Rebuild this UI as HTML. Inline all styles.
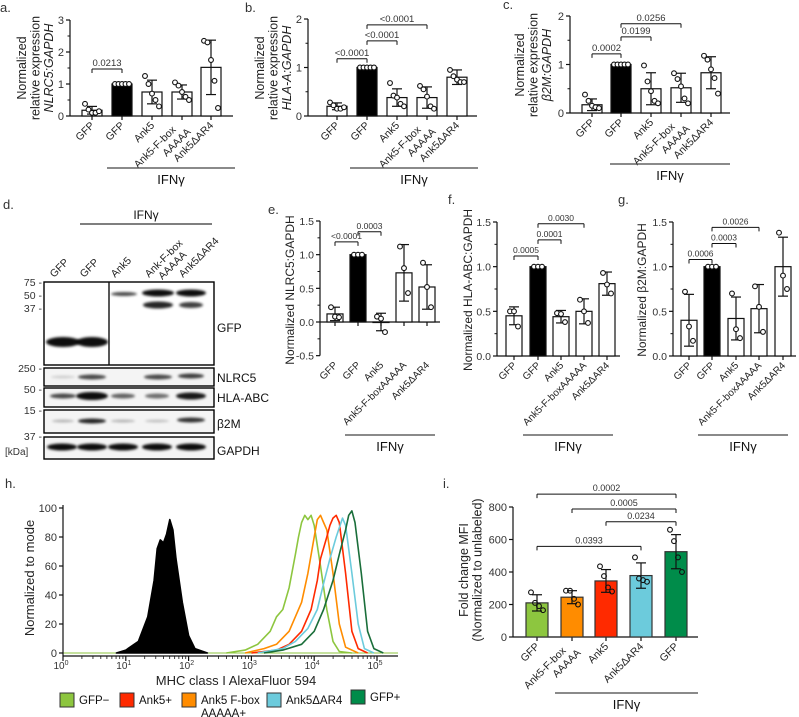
<!DOCTYPE html>
<html><head><meta charset="utf-8"><style>
html,body{margin:0;padding:0;background:#fff;}
svg{display:block;font-family:"Liberation Sans",Arial,sans-serif;}
</style></head><body>
<svg id="fig" width="799" height="717" viewBox="0 0 799 717" xmlns="http://www.w3.org/2000/svg">
<defs><filter id="blr" x="-20%" y="-100%" width="140%" height="300%"><feGaussianBlur stdDeviation="1.3"/></filter></defs>
</svg>
<script>
// ---------- data ----------
const catsA = ["GFP","GFP","Ank5","Ank5-F-box","AAAAA","Ank5ΔAR4"];
const aMeans = [0.18,1,0.75,0.75,1.52];
const aSD = [0.12,0,0.37,0.22,0.85];
const aPoints = [[0.38,0.2,0.1,0.1,0.15],[1,1,1,1,1],[1.25,1.0,0.7,0.5,0.3],[1.05,0.95,0.75,0.6,0.5],[2.35,2.3,1.75,1.1,0.25]];
const aSig = [["0.0213",0,1,1.47]];
const bMeans = [0.2,1,0.38,0.38,0.8];
const bSD = [0.07,0,0.18,0.22,0.15];
const bPoints = [[0.28,0.22,0.15,0.15,0.18],[1,1,1,1,1],[0.68,0.42,0.38,0.25,0.2],[0.62,0.55,0.4,0.2,0.15],[0.95,0.82,0.75,0.7,0.7]];
const bSig = [["<0.0001",0,1,1.18],["<0.0001",1,2,1.55],["<0.0001",1,3,1.88]];
const cMeans = [0.17,1,0.5,0.52,0.83];
const cSD = [0.12,0,0.33,0.3,0.33];
const cPoints = [[0.38,0.25,0.15,0.12,0.1],[1,1,1,1,1],[0.98,0.65,0.45,0.25,0.2],[0.82,0.7,0.55,0.3,0.2],[1.18,1.1,0.9,0.72,0.4]];
const cSig = [["0.0002",0,1,1.22],["0.0199",1,2,1.57],["0.0256",1,3,1.84]];
const catsE = ["GFP","GFP","Ank5","Ank5-F-boxAAAAA","Ank5ΔAR4"];
const eMeans = [0.12,1,0,0.73,0.52];
const eSD = [0.1,0,0.13,0.42,0.33];
const ePoints = [[0.22,0.08,0.07],[1,1,1],[0.08,0.05,-0.15],[1.12,0.8,0.43],[0.88,0.52,0.22]];
const eSig = [["<0.0001",0,1,1.19],["0.0003",1,2,1.34]];
const fMeans = [0.45,1,0.44,0.5,0.81];
const fSD = [0.1,0,0.07,0.14,0.13];
const fPoints = [[0.5,0.5,0.33],[1,1,1],[0.48,0.47,0.38],[0.63,0.5,0.37],[0.93,0.8,0.7]];
const fSig = [["0.0005",0,1,1.12],["0.0001",1,2,1.30],["0.0030",1,3,1.48]];
const gMeans = [0.4,1,0.42,0.53,1.0];
const gSD = [0.29,0,0.24,0.27,0.33];
const gPoints = [[0.72,0.33,0.17],[1,1,1],[0.7,0.3,0.2],[0.78,0.55,0.27],[1.38,0.9,0.75]];
const gSig = [["0.0006",0,1,1.08],["0.0003",1,2,1.26],["0.0026",1,3,1.44]];
const catsI = ["GFP","Ank5-F-box\nAAAAA","Ank5","Ank5ΔAR4","GFP"];
const iMeans = [210,245,345,378,525];
const iSD = [50,40,70,78,105];
const iPoints = [[275,210,190,165],[285,285,235,200],[435,375,305,280],[490,360,350,340],[660,590,490,400]];
const iSig = [["0.0002",0,4,879],["0.0005",1,4,788],["0.0234",2,4,709],["0.0393",0,3,558]];
const hNames = ["GFP−","Ank5+","Ank5 F-box AAAAA+","Ank5ΔAR4","GFP+"];
const hBlackX = [0.85,1.0,1.2,1.35,1.45,1.5,1.55,1.6,1.65,1.7,1.75,1.8,1.9,2.0,2.1,2.3];
const hBlackY = [0,2,8,25,50,72,78,76,82,92,85,65,35,12,3,0];
const hLimeX = [2.6,2.9,3.1,3.3,3.4,3.5,3.6,3.7,3.75,3.8,3.85,3.9,3.95,4.0,4.1,4.2,4.3,4.4,4.6];
const hLimeY = [0,2,6,15,25,30,45,68,80,90,95,92,95,88,60,30,8,1,0];
const hOrangeX = [2.9,3.2,3.4,3.6,3.8,3.9,4.0,4.05,4.1,4.15,4.2,4.3,4.4,4.5,4.7];
const hOrangeY = [0,3,6,15,35,55,80,92,95,90,85,55,20,4,0];
const hRedX = [3.0,3.4,3.6,3.8,3.95,4.05,4.1,4.2,4.25,4.3,4.35,4.4,4.5,4.6,4.7,4.85];
const hRedY = [0,2,6,15,30,50,65,80,88,93,95,90,55,15,3,0];
const hCyanX = [3.1,3.5,3.7,3.9,4.05,4.15,4.25,4.35,4.45,4.5,4.6,4.7,4.8,4.95];
const hCyanY = [0,3,8,17,30,48,65,80,93,88,55,20,3,0];
const hGreenX = [3.2,3.5,3.8,4.0,4.15,4.3,4.4,4.5,4.55,4.6,4.65,4.75,4.85,4.95,5.1];
const hGreenY = [0,2,6,15,30,50,68,85,95,98,90,55,15,3,0];

// ---------- helpers ----------
const svg = document.getElementById('fig');
const NS = "http://www.w3.org/2000/svg";
function mk(tag, at, parent){ const e=document.createElementNS(NS,tag); for(const k in at) e.setAttribute(k,at[k]); (parent||svg).appendChild(e); return e; }
function txt(s, x, y, size, anchor, parent, extra){ const t=mk('text',Object.assign({x:x,y:y,'font-size':size,'text-anchor':anchor||'start',fill:'#111'},extra||{}),parent); t.textContent=s; return t; }
function line(x1,y1,x2,y2,parent,w,c){ return mk('line',{x1:x1,y1:y1,x2:x2,y2:y2,stroke:c||'#111','stroke-width':w||1},parent); }

function barPanel(p){
  const g = mk('g',{});
  
  
  const Y = v => p.y0 - v * (p.y0 - p.yTop) / (p.yMax);
  const ax = line(p.ax, Y(p.yMin), p.ax, Y(p.yMax), g, 1.2);
  
  
  p.ticks.forEach(v=>{ line(p.ax-4,Y(v),p.ax,Y(v),g,1.2); const t=txt(p.tickFmt(v),p.ax-6,Y(v)+4,p.tickSize||11,'end',g,{fill:'#333'});   });
  (p.minor||[]).forEach(v=>line(p.ax-2.5,Y(v),p.ax,Y(v),g,1));
  const xa = line(p.ax, Y(0), p.axEnd, Y(0), g, 1.2);
  
  
  p.means.forEach((m,i)=>{
    const cx=p.centers[i];
    line(cx,Y(0),cx,Y(0)+4,g,1.2);
    const top=Y(Math.max(m,0)), bot=Y(Math.min(m,0));
    const r=mk('rect',{x:cx-p.bw/2,y:top,width:p.bw,height:Math.max(bot-top,0.5),fill:p.colors?p.colors[i]:(i===1?'#000':'#fff'),stroke:p.colors?'#333':'#111','stroke-width':1.2},g);
    
    
    const sd=p.sd[i];
    if(sd>0){ line(cx,Y(m-sd),cx,Y(m+sd),g,1.2); line(cx-5,Y(m+sd),cx+5,Y(m+sd),g,1.2); line(cx-5,Y(m-sd),cx+5,Y(m-sd),g,1.2); }
    const pts=p.points[i], n=pts.length;
    pts.forEach((v,j)=>{ const off=(j-(n-1)/2)*(p.jit||3.5); const c=mk('circle',{cx:cx+off,cy:Y(v),r:2.4,fill:p.colors?'none':'#fff',stroke:'#111','stroke-width':1.1},g);   });
  });
  p.labels.forEach((lab,i)=>{
    const parts=lab.split('\n');
    const cx=p.centers[i], yy=Y(p.yMin)+10;
    const t=mk('text',{transform:`translate(${cx+3},${yy}) rotate(-45)`,'font-size':p.labSize||10.5,'text-anchor':'end',fill:'#222'},g);
    
    
    if(parts.length===1){ t.textContent=lab; }
    else { const t1=mk('tspan',{x:-9,y:-3},t); t1.textContent=parts[0]; const t2=mk('tspan',{x:0,y:9},t); t2.textContent=parts[1]; }
  });
  p.sig.forEach(s=>{
    const x1=p.centers[s[1]], x2=p.centers[s[2]], y=Y(s[3]);
    line(x1,y,x2,y,g,1); line(x1,y,x1,y+4,g,1); line(x2,y,x2,y+4,g,1);
    const t=txt(s[0],(x1+x2)/2,y-3,p.sigSize||9.5,'middle',g,{fill:'#333'});
    
    
  });
  line(p.ifn[0],p.ifn[2],p.ifn[1],p.ifn[2],g,1.2,'#444');
  const it=txt('IFNγ',(p.ifn[0]+p.ifn[1])/2,p.ifn[2]+16,13,'middle',g);
  
  
  const tt=mk('text',{transform:`translate(${p.titleX},${p.titleY}) rotate(-90)`,'font-size':p.titleSize||13,'text-anchor':'middle',fill:'#222'},g);
  
  
  p.title.forEach((s,k)=>{ const ts=mk('tspan',{x:0,y:k*13.5},tt); ts.textContent=s[0]; if(s[1]) ts.setAttribute('font-style','italic'); });
  const pl=txt(p.letter,p.letterX,p.letterY,13,'start',g,{fill:'#333'});
  
  
}
const labs5 = [catsA[0],catsA[1],catsA[2],catsA[3]+"\n"+catsA[4],catsA[5]];
const fmtI = v=>String(v), fmt1=v=>v.toFixed(1);

barPanel({name:'panel-a',letter:'a.',letterX:0,letterY:12,ax:70,axEnd:233,y0:116,yTop:20,yMax:3,yMin:0,ticks:[0,1,2,3],minor:[0.5,1.5,2.5],tickFmt:fmtI,
  centers:[92,122,152,182,211],bw:20,means:aMeans,sd:aSD,points:aPoints,labels:labs5,sig:aSig,ifn:[107,235,168],
  title:[["Normalized"],["relative expression"],["NLRC5:GAPDH",1]],titleX:26,titleY:68,titleSize:12.5});
barPanel({name:'panel-b',letter:'b.',letterX:245,letterY:12,ax:308,axEnd:477,y0:116,yTop:19,yMax:2,yMin:0,ticks:[0,1,2],minor:[0.5,1.5],tickFmt:fmtI,
  centers:[337,367,397,427,457],bw:20,means:bMeans,sd:bSD,points:bPoints,labels:labs5,sig:bSig,ifn:[350,478,168],
  title:[["Normalized"],["relative expression"],["HLA-A:GAPDH",1]],titleX:264,titleY:68,titleSize:12.5});
barPanel({name:'panel-c',letter:'c.',letterX:503,letterY:9,ax:570,axEnd:730,y0:113,yTop:16,yMax:2,yMin:0,ticks:[0,1,2],minor:[0.5,1.5],tickFmt:fmtI,
  centers:[592,621,651,681,711],bw:20,means:cMeans,sd:cSD,points:cPoints,labels:labs5,sig:cSig,ifn:[610,730,164],
  title:[["Normalized"],["relative expression"],["β2M:GAPDH",1]],titleX:524,titleY:65,titleSize:12.5});
barPanel({name:'panel-e',letter:'e.',letterX:268,letterY:214,ax:320,axEnd:440,y0:322,yTop:221,yMax:1.5,yMin:-0.5,ticks:[-0.5,0,0.5,1,1.5],minor:[-0.25,0.25,0.75,1.25],tickFmt:fmt1,
  centers:[335,358,381,404,427],bw:16,jit:4,means:eMeans,sd:eSD,points:ePoints,labels:catsE,sig:eSig,ifn:[345,435,435],labSize:10,sigSize:8.5,tickSize:10.5,
  title:[["Normalized NLRC5:GAPDH"]],titleX:294,titleY:290,titleSize:12});
barPanel({name:'panel-f',letter:'f.',letterX:448,letterY:204,ax:497,axEnd:620,y0:356,yTop:222,yMax:1.5,yMin:0,ticks:[0,0.5,1,1.5],minor:[0.25,0.75,1.25],tickFmt:fmt1,
  centers:[514,538,561,584,607],bw:16,jit:4,means:fMeans,sd:fSD,points:fPoints,labels:catsE,sig:fSig,ifn:[523,613,435],labSize:10,sigSize:8.5,tickSize:10.5,
  title:[["Normalized HLA-ABC:GAPDH"]],titleX:472,titleY:290,titleSize:12});
barPanel({name:'panel-g',letter:'g.',letterX:618,letterY:204,ax:673,axEnd:796,y0:356,yTop:222,yMax:1.5,yMin:0,ticks:[0,0.5,1,1.5],minor:[0.25,0.75,1.25],tickFmt:fmt1,
  centers:[689,712,736,759,783],bw:16,jit:4,means:gMeans,sd:gSD,points:gPoints,labels:catsE,sig:gSig,ifn:[698,788,435],labSize:10,sigSize:8.5,tickSize:10.5,
  title:[["Normalized β2M:GAPDH"]],titleX:646,titleY:290,titleSize:12});
barPanel({name:'panel-i',letter:'i.',letterX:443,letterY:488,ax:513,axEnd:698,y0:637,yTop:507,yMax:800,yMin:0,ticks:[0,200,400,600,800],minor:[],tickFmt:fmtI,
  centers:[537,572,606,641,676],bw:22,jit:4,means:iMeans,sd:iSD,points:iPoints,labels:catsI,sig:iSig,ifn:[555,698,693],labSize:10.5,sigSize:9,tickSize:11,
  colors:['#8dc63f','#ff8c00','#ff2a00','#6ccbdc','#008c4a'],
  title:[["Fold change MFI"],["(Normalized to unlabeled)"]],titleX:468,titleY:570,titleSize:12.5});

// ---------- panel d : western blot ----------
const gd = mk('g',{});


txt('d.',3,209,13,'start',gd,{fill:'#333'});
line(80,224,212,224,gd,1.2,'#333');
txt('IFNγ',146,219,12,'middle',gd);
const lanes=[62,92,123,157,191];
const laneLabs=[["GFP"],["GFP"],["Ank5"],["Ank-F-box","AAAAA"],["Ank5ΔAR4"]];
laneLabs.forEach((l,i)=>{ const t=mk('text',{transform:`translate(${lanes[i]-8},${278}) rotate(-45)`,'font-size':10.5,fill:'#222'},gd);
   
  l.forEach((s,k)=>{const ts=mk('tspan',{x:k*8,y:k*11},t); ts.textContent=s;}); });
function band(x,y,w,h,op){ mk('ellipse',{cx:x,cy:y,rx:w/2,ry:h/2,fill:'#000','fill-opacity':op,filter:'url(#blr)'},gd); }
[[44,282,214,365],[44,368,214,386],[44,388,214,407],[44,410,214,433],[44,437,214,459]].forEach((b,i)=>{
  const r=mk('rect',{x:b[0],y:b[1],width:b[2]-b[0],height:b[3]-b[1],fill:i?'#f4f4f4':'#fff',stroke:'#000','stroke-width':1.4},gd);
   
});
line(109,282,109,365,gd,1.4);
band(63,342,34,10,0.95); band(92,342,32,10,0.95);
band(124,294,26,4,0.7); band(158,293,32,7,0.95); band(158,305,30,7,0.85); band(191,293,30,7,0.95); band(191,305,24,6,0.75);
band(63,377,24,3,0.15); band(92,377,28,5,0.7); band(158,377,28,5,0.7); band(191,376,26,5,0.75);
band(63,396,26,5,0.7); band(92,396,32,8,0.95); band(123,396,24,5,0.6); band(157,396,24,5,0.55); band(191,396,30,7,0.9);
band(63,421,22,3,0.25); band(92,421,28,5,0.85); band(123,421,24,3,0.25); band(157,421,24,3,0.2); band(191,420,28,5,0.8);
lanes.forEach(x=>band(x,447,30,7,0.95));
[["75 -",286],["50 -",299],["37 -",312],["250 -",372],["50 -",393],["15 -",414],["37 -",440]].forEach(m=>{const t=txt(m[0],42,m[1],10.5,'end',gd,{fill:'#333'});  });
txt('[kDa]',5,455,10,'start',gd,{fill:'#333'});
[["GFP",332],["NLRC5",382],["HLA-ABC",402],["β2M",428],["GAPDH",455]].forEach(m=>{const t=txt(m[0],217,m[1],12,'start',gd);  });

// ---------- panel h : flow histogram ----------
const gh = mk('g',{});


txt('h.',5,488,13,'start',gh,{fill:'#333'});
const HX = lx => 63 + lx*62.8, HY = v => 653 - v*1.45;
function curve(xs,ys,fill,stroke,name){
  let d='M'+xs.map((x,i)=>HX(x).toFixed(1)+','+HY(ys[i]).toFixed(1)).join(' L');
  const p=mk('path',{d:d+(fill?' Z':''),fill:fill||'none',stroke:stroke,'stroke-width':1.6,'stroke-linejoin':'round'},gh);
   
}
line(63,653,398,653,gh,1,'#8dc63f');
curve(hBlackX,hBlackY,'#000','#000','histogram-unlabeled');
curve(hLimeX,hLimeY,null,'#8dc63f','histogram-gfp-neg');
curve(hOrangeX,hOrangeY,null,'#ff8c00','histogram-fbox');
curve(hRedX,hRedY,null,'#ff2a00','histogram-ank5');
curve(hCyanX,hCyanY,null,'#6ccbdc','histogram-dar4');
curve(hGreenX,hGreenY,null,'#1a6e3a','histogram-gfp-pos');
line(63,505,63,656,gh,1.2); line(63,656,398,656,gh,1.2);
[0,20,40,60,80,100].forEach(v=>{ line(59,HY(v),63,HY(v),gh,1.2); const t=txt(String(v),57,HY(v)+4,11,'end',gh,{fill:'#333'});  });
for(let d=0;d<=5;d++){ const x=HX(d); line(x,656,x,661,gh,1.2);
  const t=mk('text',{x:x-2,y:669,'font-size':10,'text-anchor':'middle',fill:'#333'},gh); t.textContent='10'; const s=mk('tspan',{dy:-4,'font-size':7},t); s.textContent=String(d);
   
  if(d<5) for(let k=2;k<10;k++) line(HX(d+Math.log10(k)),656,HX(d+Math.log10(k)),659,gh,0.8); }
const xt=txt('MHC class I AlexaFluor 594',236,685,13,'middle',gh,{fill:'#222'});  
const yt=mk('text',{transform:'translate(34,578) rotate(-90)','font-size':13,'text-anchor':'middle',fill:'#222'},gh); yt.textContent='Normalized to mode';
 
const legCols=['#8dc63f','#ff2a00','#ff8c00','#6ccbdc','#008c4a'], legX=[60,120,182,267,351], legY=[693,693,693,693,690];
hNames.forEach((n,i)=>{ const r=mk('rect',{x:legX[i],y:legY[i],width:14,height:14,fill:legCols[i],stroke:'#333','stroke-width':1},gh);
   
  const t=txt(i===2?'Ank5 F-box':n,legX[i]+19,legY[i]+11,11.5,'start',gh);  
  if(i===2){ txt('AAAAA+',legX[i]+19,legY[i]+24,11.5,'start',gh); } });
</script>
</body></html>
